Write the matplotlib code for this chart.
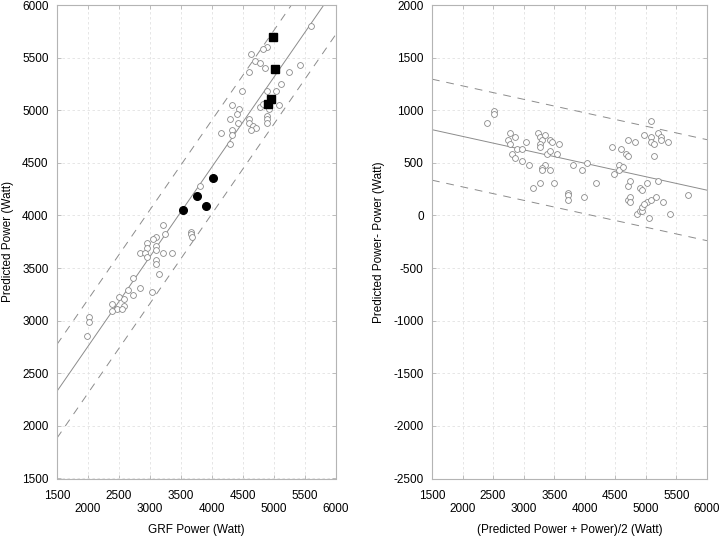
import matplotlib
matplotlib.use("Agg")
import numpy as np
import matplotlib.pyplot as plt

plt.rcParams["font.family"] = ["Liberation Sans", "DejaVu Sans"]
plt.rcParams["font.size"] = 8.5
plt.rcParams["axes.unicode_minus"] = False

# left panel: GRF power vs predicted power
grf_open = [5600, 4887, 4823, 4629, 4699, 4774, 4855, 4592, 5237, 5415,
            4484, 4887, 5037, 5118, 4328, 4441, 4409, 4296, 4415, 4328,
            4328, 4145, 4291, 4592, 4592, 4667, 4710, 4629, 4779, 4828,
            4925, 4887, 4887, 4887, 5075, 3807,
            3215, 3247, 3102, 3053, 2952, 2952, 3102, 3102, 2839, 2915,
            3215, 3360, 2952, 3102, 3102, 3140, 3661, 3661, 3682, 2731,
            2839, 2650, 2731, 3027, 2505, 2581, 2392, 2581, 2468, 2543,
            2392, 2021, 2021, 1984]
pred_open = [5800, 5604, 5582, 5538, 5468, 5449, 5405, 5360, 5360, 5427,
             5186, 5186, 5186, 5249, 5053, 5009, 4968, 4920, 4876, 4812,
             4768, 4787, 4676, 4920, 4876, 4854, 4831, 4809, 5030, 5063,
             5009, 4949, 4920, 4876, 5053, 4283,
             3909, 3820, 3798, 3776, 3735, 3690, 3709, 3668, 3646, 3646,
             3646, 3646, 3602, 3580, 3535, 3447, 3842, 3820, 3795, 3402,
             3313, 3291, 3247, 3269, 3224, 3202, 3158, 3136, 3114, 3114,
             3091, 3034, 2984, 2854]
grf_dot = [4016, 3753, 3903, 3527]
pred_dot = [4359, 4181, 4093, 4049]
grf_sq = [4990, 5022, 4947, 4908]
pred_sq = [5700, 5392, 5107, 5059]
fit_left = (1050, 0.853)   # intercept, slope
band_left = 445

# right panel: Bland-Altman
mean_pw = [2395, 2514, 2514, 2781, 2738, 2853, 2781, 2896, 2972, 2814,
           2853, 2972, 3043, 3082, 3234, 3272, 3305, 3349, 3272, 3272,
           3425, 3463, 3387, 3425, 3540, 3578, 3349, 3305, 3425, 3305,
           3157, 3272, 3501, 3725, 3725, 3725, 3802, 3954, 4031, 3992,
           4183, 4450, 4483, 4559, 4559, 4597, 4630, 4669, 4707, 4707,
           4821, 4707, 4744, 4707, 4744, 4744, 4859, 4898, 4936, 4936,
           4898, 4936, 4973, 5012, 5012, 4973, 5050, 5088, 5088, 5088,
           5127, 5127, 5088, 5165, 5202, 5241, 5241, 5356, 5202, 5279,
           5394, 5693]
diff_pw = [875, 990, 964, 787, 720, 742, 676, 631, 631, 587,
           543, 521, 698, 479, 787, 742, 720, 765, 676, 654,
           720, 698, 587, 609, 587, 676, 479, 454, 435, 435,
           260, 305, 305, 213, 191, 150, 479, 435, 502, 172,
           305, 654, 390, 476, 435, 631, 457, 587, 568, 720,
           698, 283, 327, 150, 172, 128, 17, 39, 42, 84,
           260, 238, 765, 305, 128, 106, -25, 897, 742, 698,
           676, 568, 150, 172, 787, 742, 720, 698, 327, 128,
           17, 194]
fit_right = (1007, -0.1278)
band_right = 480

ticks_x = list(range(1500, 6001, 500))
ticks_y_left = list(range(1500, 6001, 500))
ticks_y_right = list(range(-2500, 2001, 500))

line_col = "#8c8c8c"
spine_col = "#b4b4b4"


def style_axes(ax, yticks):
    ax.set_xlim(1500, 6000)
    ax.set_ylim(yticks[0], yticks[-1])
    ax.set_xticks(ticks_x)
    ax.set_xticklabels([str(t) if i % 2 == 0 else "\n" + str(t)
                        for i, t in enumerate(ticks_x)])
    ax.set_yticks(yticks)
    ax.tick_params(direction="in", length=3, width=0.6, color=spine_col,
                   top=True, right=True)
    ax.tick_params(axis="x", pad=8)
    ax.tick_params(axis="y", pad=6)
    for s in ax.spines.values():
        s.set_color(spine_col)
        s.set_linewidth(0.8)
    ax.grid(True, color="#e2e2e2", linestyle=(0, (3, 3)), linewidth=0.6)
    ax.set_axisbelow(True)


fig = plt.figure(figsize=(7.2, 5.38), dpi=100)
ax1 = fig.add_axes([57 / 720, 1 - 478.5 / 538, 279 / 720, 473.5 / 538])
ax2 = fig.add_axes([432 / 720, 1 - 478.5 / 538, 275 / 720, 473.5 / 538])

xs = np.array([1500, 6000])

# left
style_axes(ax1, ticks_y_left)
b, m = fit_left
ax1.plot(xs, b + m * xs, color=line_col, lw=0.7)
ax1.plot(xs, b + m * xs + band_left, color=line_col, lw=0.7, dashes=(8, 7))
ax1.plot(xs, b + m * xs - band_left, color=line_col, lw=0.7, dashes=(8, 7))
ax1.plot(grf_open, pred_open, "o", ms=4.2, mfc="white", mec="#8a8a8a", mew=0.6)
ax1.plot(grf_dot, pred_dot, "o", ms=5.5, color="black")
ax1.plot(grf_sq, pred_sq, "s", ms=5.2, color="black")
ax1.set_xlabel("GRF Power (Watt)", labelpad=6)
ax1.set_ylabel("Predicted Power (Watt)", labelpad=6)

# right
style_axes(ax2, ticks_y_right)
b, m = fit_right
ax2.plot(xs, b + m * xs, color=line_col, lw=0.7)
ax2.plot(xs, b + m * xs + band_right, color=line_col, lw=0.7, dashes=(8, 7))
ax2.plot(xs, b + m * xs - band_right, color=line_col, lw=0.7, dashes=(8, 7))
ax2.plot(mean_pw, diff_pw, "o", ms=4.2, mfc="white", mec="#8a8a8a", mew=0.6)
ax2.set_xlabel("(Predicted Power + Power)/2 (Watt)", labelpad=6)
ax2.set_ylabel("Predicted Power- Power (Watt)", labelpad=6)

fig.savefig("out.png", dpi=100)
